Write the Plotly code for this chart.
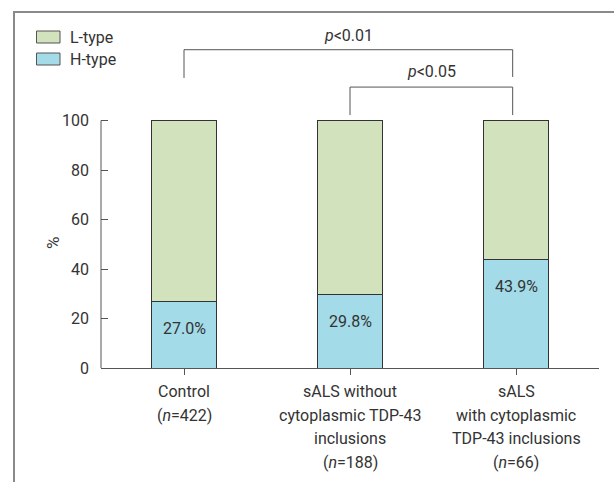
import plotly.graph_objects as go

# ---- data ----
categories = ["Control<br>(<i>n</i>=422)",
              "sALS without<br>cytoplasmic TDP-43<br>inclusions<br>(<i>n</i>=188)",
              "sALS<br>with cytoplasmic<br>TDP-43 inclusions<br>(<i>n</i>=66)"]
h_type = [27.0, 29.8, 43.9]
l_type = [round(100 - v, 1) for v in h_type]
y_ticks = [0, 20, 40, 60, 80, 100]
series_names = ["L-type", "H-type"]
p_labels = ["<i>p</i>&lt;0.01", "<i>p</i>&lt;0.05"]

# ---- style ----
FONT = "Roboto, sans-serif"
FS = 16
TXT = "#333333"
AX = "#555555"
GREEN = "#d1e2bc"
BLUE = "#a3dbe8"
W, H = 614, 482
ML, MR, MT, MB = 101, 15, 0, 114
PH = H - MT - MB
PX_PER_UNIT = 2.475
y_top = PH / PX_PER_UNIT

x_idx = list(range(len(categories)))

fig = go.Figure()
fig.add_trace(go.Bar(x=x_idx, y=h_type, name=series_names[1], marker=dict(color=BLUE, line=dict(color="#333", width=1)),
                     showlegend=False, hoverinfo="skip"))
fig.add_trace(go.Bar(x=x_idx, y=l_type, name=series_names[0], marker=dict(color=GREEN, line=dict(color="#333", width=1)),
                     showlegend=False, hoverinfo="skip"))

shapes = []
annotations = []

# y axis line 0..100
shapes.append(dict(type="line", xref="paper", yref="y", x0=0, x1=0, y0=0, y1=100, line=dict(color=AX, width=1)))

# percent labels in H segments
for i, v in enumerate(h_type):
    annotations.append(dict(x=i, y=v - 11, xref="x", yref="y", text=f"{v:.1f}%", showarrow=False,
                            font=dict(size=FS, color=TXT, family=FONT)))

# category labels (one annotation per line)
for i, c in enumerate(categories):
    for j, line in enumerate(c.split("<br>")):
        annotations.append(dict(x=i, y=0, xref="x", yref="paper", yanchor="middle", yshift=-(23.7 + 23.6 * j),
                                text=line, showarrow=False, font=dict(size=FS, color=TXT, family=FONT)))

# significance brackets
def bracket(x0, x1, ytop, yl, yr):
    return dict(type="path", xref="x", yref="y",
                path=f"M {x0},{yl} L {x0},{ytop} L {x1},{ytop} L {x1},{yr}",
                line=dict(color=AX, width=1))

shapes.append(bracket(0, 1.98, 128.6, 117.2, 117.6))
shapes.append(bracket(1, 1.98, 113.5, 102.2, 102.2))
annotations.append(dict(x=0.99, y=134.5, xref="x", yref="y", text=p_labels[0], showarrow=False,
                        font=dict(size=FS, color=TXT, family=FONT)))
annotations.append(dict(x=1.49, y=119.6, xref="x", yref="y", text=p_labels[1], showarrow=False,
                        font=dict(size=FS, color=TXT, family=FONT)))

# legend (manual)
def px_x(p):
    return (p - ML) / (W - ML - MR)

def px_y(p):
    return 1 - (p - MT) / PH

for k, (name, col) in enumerate([(series_names[0], GREEN), (series_names[1], BLUE)]):
    y0 = 31 + 22 * k
    shapes.append(dict(type="rect", xref="paper", yref="paper", x0=px_x(36.5), x1=px_x(60), y0=px_y(y0 + 12), y1=px_y(y0),
                       fillcolor=col, line=dict(color=AX, width=1)))
    annotations.append(dict(x=px_x(68), y=px_y(y0 + 6.5), xref="paper", yref="paper", xanchor="left", yanchor="middle",
                            text=name, showarrow=False, font=dict(size=FS, color=TXT, family=FONT)))

# y axis title
annotations.append(dict(x=px_x(41), y=px_y(243), xref="paper", yref="paper", text="%", textangle=-90, showarrow=False,
                        font=dict(size=17, color=TXT, family=FONT)))

# frame
shapes.append(dict(type="line", xref="paper", yref="paper", x0=px_x(14), x1=px_x(14), y0=px_y(12), y1=px_y(H + 2),
                   line=dict(color="#8a8a8a", width=2)))
shapes.append(dict(type="line", xref="paper", yref="paper", x0=px_x(13), x1=px_x(W + 2), y0=px_y(12), y1=px_y(12),
                   line=dict(color="#8a8a8a", width=2)))

fig.update_layout(
    width=W, height=H,
    margin=dict(l=ML, r=MR, t=MT, b=MB, pad=0),
    barmode="stack", bargap=0.61,
    plot_bgcolor="white", paper_bgcolor="white",
    font=dict(family=FONT, color=TXT, size=FS),
    shapes=shapes, annotations=annotations,
    hovermode=False,
    xaxis=dict(range=[-0.5, 2.5], tickvals=x_idx, showticklabels=False, showline=True, linecolor=AX, linewidth=1,
               ticks="outside", tickson="boundaries", ticklen=6, tickcolor=AX, showgrid=False, zeroline=False,
               type="linear", fixedrange=True),
    yaxis=dict(range=[0, y_top], tickvals=y_ticks, ticks="inside", ticklen=7, tickcolor=AX, showline=False,
               showgrid=False, zeroline=False, ticklabelstandoff=11, fixedrange=True,
               tickfont=dict(size=FS, color=TXT, family=FONT)),
)

fig.write_html("out.html", config={"displayModeBar": False},
               post_script="document.body.style.margin='0';")
